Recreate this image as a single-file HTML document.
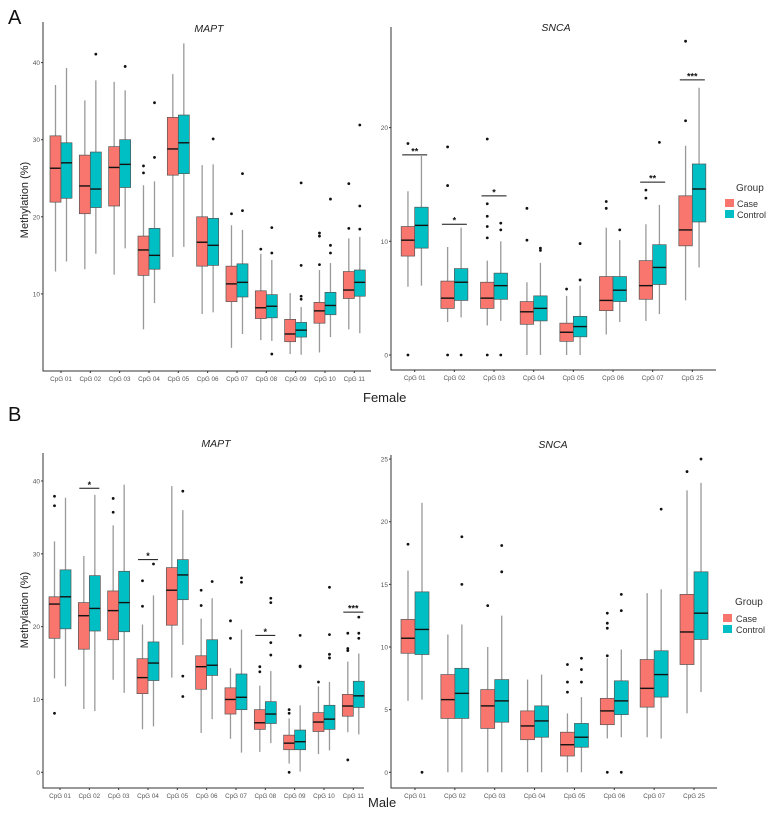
<!DOCTYPE html>
<html><head><meta charset="utf-8">
<style>
html,body{margin:0;padding:0;background:#fff;}
svg{display:block;font-family:"Liberation Sans",sans-serif;}
</style></head>
<body>
<svg id="fig" width="767" height="816" viewBox="0 0 767 816" xmlns="http://www.w3.org/2000/svg">
<text x="8" y="24" font-size="20" fill="#111">A</text>
<text x="8" y="421" font-size="20" fill="#111">B</text>
<text x="363" y="402" font-size="13" fill="#222">Female</text>
<text x="368" y="807" font-size="13" fill="#222">Male</text>
<g id="legA">
<text x="736" y="191" font-size="10" fill="#333">Group</text>
<rect x="725" y="199" width="9" height="8" fill="#F8766D"/>
<text x="737" y="207" font-size="9" fill="#333">Case</text>
<rect x="725" y="210" width="9" height="8" fill="#00BFC4"/>
<text x="737" y="218" font-size="9" fill="#333">Control</text>
</g>
<g id="legB">
<text x="735" y="605" font-size="10" fill="#333">Group</text>
<rect x="723" y="614" width="9" height="8" fill="#F8766D"/>
<text x="736" y="622" font-size="9" fill="#333">Case</text>
<rect x="723" y="625" width="9" height="8" fill="#00BFC4"/>
<text x="736" y="633" font-size="9" fill="#333">Control</text>
</g>
</svg>
<script>
// ---- data ----
const maptCats = ["CpG 01","CpG 02","CpG 03","CpG 04","CpG 05","CpG 06","CpG 07","CpG 08","CpG 09","CpG 10","CpG 11"];
const sncaCats = ["CpG 01","CpG 02","CpG 03","CpG 04","CpG 05","CpG 06","CpG 07","CpG 25"];
const maptTicksA = [10,20,30,40];
const sncaTicksA = [0,10,20];
const maptTicksB = [0,10,20,30,40];
const sncaTicksB = [0,5,10,15,20,25];
// [lowWhisker, q1, median, q3, highWhisker]
const aMaptCase = [[12.9,21.9,26.3,30.5,37.1],[13.2,20.4,24.0,28.0,35.1],[12.5,21.4,26.4,29.1,37.5],[5.4,12.4,15.7,17.5,24.1],[14.8,25.4,28.8,32.9,38.5],[7.4,13.6,16.7,20.0,26.7],[3.0,9.0,11.3,13.6,18.9],[4.0,6.8,8.2,10.4,15.2],[2.2,3.8,4.8,6.7,10.1],[2.4,6.2,7.8,8.9,13.1],[5.4,9.4,10.5,12.9,17.2]];
const aMaptCtrl = [[14.2,22.4,27.0,29.6,39.3],[15.2,21.2,23.6,28.4,37.7],[15.9,23.8,26.8,30.0,36.4],[8.8,13.2,15.0,18.5,24.6],[16.1,25.6,29.6,33.2,42.5],[7.6,13.7,16.3,19.8,26.8],[4.8,9.6,11.5,13.9,18.3],[3.9,6.9,8.4,9.9,14.4],[2.1,4.4,5.3,6.3,8.3],[4.4,7.3,8.5,10.2,14.0],[4.9,9.7,11.5,13.1,17.4]];
const aMaptCaseOut = [[],[],[],[26.6,25.7],[],[],[20.4],[15.8],[],[17.9,17.5,13.8],[24.3,18.5]];
const aMaptCtrlOut = [[],[41.1],[39.5],[34.8,27.7],[],[30.1],[25.6,20.8],[18.6,15.3,2.2],[24.4,13.7,9.7,9.3],[22.3,16.3,15.3],[31.9,21.4,18.4]];
const aSncaCase = [[6.0,8.7,10.1,11.3,14.4],[2.9,4.1,5.0,6.5,9.5],[2.6,4.1,5.0,6.4,8.3],[0,2.7,3.8,4.7,6.4],[0,1.2,2.0,2.8,5.2],[1.8,3.9,4.8,6.9,11.2],[3.0,4.9,6.1,8.3,11.5],[4.8,9.6,11.0,14.0,18.4]];
const aSncaCtrl = [[6.1,9.4,11.4,13.0,17.5],[3.3,4.8,6.4,7.6,11.2],[3.0,4.9,6.1,7.2,10.0],[0,3.0,4.1,5.2,8.1],[0,1.6,2.5,3.4,6.1],[2.9,4.7,5.7,6.9,10.1],[3.6,6.2,7.7,9.7,13.2],[7.7,11.7,14.6,16.8,23.5]];
const aSncaCaseOut = [[18.6,0],[18.3,14.9,0],[19.0,13.3,12.2,11.3,10.3,0],[12.9,10.1],[5.8],[13.5,12.9],[14.5,13.8],[27.6,20.6]];
const aSncaCtrlOut = [[],[0],[11.6,11.0,0],[9.4,9.2],[9.8,6.6],[11.0],[18.7],[]];
const aSncaSig = [["**",17.6],["*",11.5],["*",14.0],null,null,null,["**",15.2],["***",24.2]];
const bMaptCase = [[12.9,18.4,23.1,24.1,31.7],[8.7,16.9,21.5,23.3,29.7],[12.7,18.2,22.2,24.9,33.9],[5.9,10.8,13.0,15.6,20.3],[13.0,20.2,25.0,28.1,39.3],[5.4,11.4,14.5,16.0,21.1],[4.6,8.0,10.0,11.6,14.3],[2.8,5.9,6.8,8.6,11.9],[1.2,3.1,4.0,5.1,7.4],[2.5,5.6,6.9,8.2,11.8],[5.5,7.7,9.1,10.7,15.2]];
const bMaptCtrl = [[11.8,19.7,24.1,27.8,37.7],[8.4,19.4,22.5,27.0,38.1],[10.9,19.3,23.3,27.6,39.5],[6.3,12.6,15.0,17.9,24.3],[17.5,23.7,27.1,29.2,36.0],[7.3,13.3,14.7,18.2,23.9],[2.7,8.6,10.3,13.5,19.6],[4.0,6.7,8.0,9.7,13.9],[0.1,3.1,4.2,5.8,9.2],[3.0,5.9,7.3,9.2,12.4],[5.2,8.9,10.5,12.5,16.3]];
const bMaptCaseOut = [[37.9,36.6,8.1],[],[37.6,35.7],[26.3,22.8],[],[25.0,22.9],[20.8,18.4],[14.5,13.8],[8.6,8.1,0],[12.4],[19.1,17.0,16.7,1.7]];
const bMaptCtrlOut = [[],[],[],[28.6],[38.6,13.2,10.4],[26.2],[26.7,26.1],[23.9,23.3,17.8,16.1],[18.8,14.6,14.5],[25.4,18.9,16.2,15.7],[21.3,19.1,18.4]];
const bMaptSig = [null,["*",39.0],null,["*",29.2],null,null,null,["*",18.8],null,null,["***",22.0]];
const bSncaCase = [[5.7,9.5,10.7,12.2,16.1],[0,4.3,5.8,7.8,11.0],[0,3.5,5.3,6.6,10.0],[0,2.6,3.7,4.9,7.4],[0,1.3,2.2,3.2,4.7],[2.7,3.8,4.9,5.9,9.1],[2.8,5.2,6.7,9.0,14.3],[4.7,8.6,11.2,14.2,22.5]];
const bSncaCtrl = [[5.8,9.4,11.4,14.4,21.5],[0,4.3,6.3,8.3,11.8],[0,4.0,5.7,7.4,12.5],[0,2.8,4.1,5.3,7.8],[0,2.0,2.8,3.9,6.0],[2.8,4.6,5.7,7.3,9.8],[2.7,6.0,7.8,9.7,14.6],[6.4,10.6,12.7,16.0,23.1]];
const bSncaCaseOut = [[18.2],[],[13.3],[],[8.6,7.2,6.4],[12.7,11.9,11.5,9.3,0],[],[24.0]];
const bSncaCtrlOut = [[0],[18.8,15.0],[18.1,16.0],[],[9.1,8.2,7.2],[14.2,12.9,0],[21.0],[25.0]];

// ---- drawing ----
const NS="http://www.w3.org/2000/svg";
const svg=document.getElementById('fig');
function mk(tag,attrs,parent){const e=document.createElementNS(NS,tag);for(const k in attrs)e.setAttribute(k,attrs[k]);(parent||svg).appendChild(e);return e;}

function panel(cfg){
  const g=mk('g',{});
  
  
  const y=v=>cfg.y0-v*cfg.k;
  const x=i=>cfg.x0+i*cfg.dx;
  const ax=mk('path',{d:`M${cfg.left} ${cfg.top}V${cfg.bottom}H${cfg.right}`,stroke:'#333',fill:'none','stroke-width':1},g);
  
  
  cfg.ticks.forEach(t=>{
    mk('line',{x1:cfg.left-2,x2:cfg.left,y1:y(t),y2:y(t),stroke:'#333'},g);
    const tl=mk('text',{x:cfg.left-3,y:y(t)+2.5,'font-size':6.5,fill:'#555','text-anchor':'end'},g);
    tl.textContent=t;
    
    
  });
  const ti=mk('text',{x:cfg.titleX,y:cfg.titleY,'font-size':10.5,'font-style':'italic',fill:'#222','text-anchor':'middle'},g);
  ti.textContent=cfg.title;
  
  
  if(cfg.ylab){
    const yl=mk('text',{x:0,y:0,'font-size':11,fill:'#222','text-anchor':'middle',transform:`translate(${cfg.ylabX},${cfg.ylabY}) rotate(-90)`},g);
    yl.textContent='Methylation (%)';
    
    
  }
  const w=cfg.bw;
  cfg.cats.forEach((c,i)=>{
    mk('line',{x1:x(i),x2:x(i),y1:cfg.bottom,y2:cfg.bottom+2,stroke:'#333'},g);
    const cl=mk('text',{x:x(i),y:cfg.bottom+10,'font-size':6.3,fill:'#555','text-anchor':'middle'},g);
    cl.textContent=c;
    
    
    [[cfg.caseD,cfg.caseO,'#F8766D',-1,'case'],[cfg.ctrlD,cfg.ctrlO,'#00BFC4',1,'control']].forEach(([D,O,col,s,nm])=>{
      const d=D[i];const cx=x(i)+s*w/2;
      const wl=mk('line',{x1:cx,x2:cx,y1:y(d[0]),y2:y(d[4]),stroke:'#999','stroke-width':1.3},g);
      
      
      const r=mk('rect',{x:cx-w/2,y:y(d[3]),width:w,height:y(d[1])-y(d[3]),fill:col,stroke:'#555','stroke-width':0.7},g);
      
      
      const m=mk('line',{x1:cx-w/2,x2:cx+w/2,y1:y(d[2]),y2:y(d[2]),stroke:'#111','stroke-width':1.4},g);
      
      
      O[i].forEach(v=>{
        const p=mk('circle',{cx:cx,cy:y(v),r:1.4,fill:'#111'},g);
        
        
      });
    });
    const sg=cfg.sig&&cfg.sig[i];
    if(sg){
      const sl=mk('line',{x1:x(i)-w+1,x2:x(i)+w-1,y1:y(sg[1]),y2:y(sg[1]),stroke:'#111','stroke-width':1},g);
      
      
      const st=mk('text',{x:x(i),y:y(sg[1])-0.5,'font-size':9,'font-weight':'bold',fill:'#111','text-anchor':'middle'},g);
      st.textContent=sg[0];
      
      
    }
  });
}
panel({name:'female-mapt-panel',title:'MAPT',titleX:209,titleY:32,cats:maptCats,ticks:maptTicksA,y0:371,k:7.71,left:43,right:371,top:22,bottom:371,x0:61,dx:29.33,bw:11,caseD:aMaptCase,ctrlD:aMaptCtrl,caseO:aMaptCaseOut,ctrlO:aMaptCtrlOut,ylab:true,ylabX:28,ylabY:200});
panel({name:'female-snca-panel',title:'SNCA',titleX:556,titleY:31,cats:sncaCats,ticks:sncaTicksA,y0:355,k:11.37,left:391,right:716,top:27,bottom:370,x0:414.7,dx:39.66,bw:13.5,caseD:aSncaCase,ctrlD:aSncaCtrl,caseO:aSncaCaseOut,ctrlO:aSncaCtrlOut,sig:aSncaSig});
panel({name:'male-mapt-panel',title:'MAPT',titleX:216,titleY:447,cats:maptCats,ticks:maptTicksB,y0:772.3,k:7.283,left:43,right:364,top:453,bottom:788,x0:60,dx:29.33,bw:11,caseD:bMaptCase,ctrlD:bMaptCtrl,caseO:bMaptCaseOut,ctrlO:bMaptCtrlOut,sig:bMaptSig,ylab:true,ylabX:28,ylabY:610});
panel({name:'male-snca-panel',title:'SNCA',titleX:553,titleY:448,cats:sncaCats,ticks:sncaTicksB,y0:772.3,k:12.53,left:391,right:717,top:455,bottom:788,x0:415,dx:39.86,bw:14,caseD:bSncaCase,ctrlD:bSncaCtrl,caseO:bSncaCaseOut,ctrlO:bSncaCtrlOut});
</script>
</body></html>
